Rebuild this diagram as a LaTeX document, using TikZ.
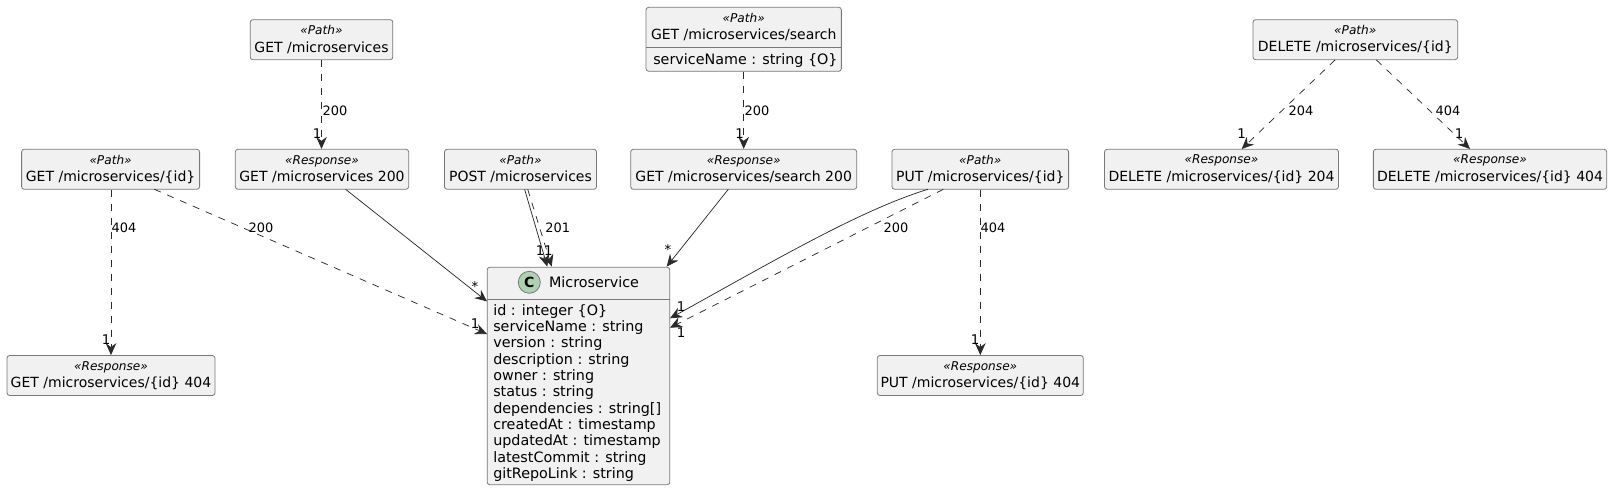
\documentclass[tikz,border=0pt]{standalone}
\usepackage{fontspec}
\setmainfont{DejaVu Sans}
\usetikzlibrary{arrows.meta}
\definecolor{boxfill}{HTML}{F1F1F1}
\definecolor{boxline}{HTML}{787878}
\definecolor{edgeline}{HTML}{2A2A2A}
\definecolor{spotfill}{HTML}{ADD1B2}
\newcommand{\stereo}[1]{{\fontsize{9.1}{11}\itshape\selectfont «#1»}}
\begin{document}
\begin{tikzpicture}
  [
  x=0.75pt,y=-0.75pt,
  box/.style={rectangle,draw=boxline,fill=boxfill,line width=0.6pt,rounded corners=2pt,inner sep=0pt,minimum height=30pt,align=center,font=\fontsize{10.5}{13}\selectfont},
  plain/.style={inner sep=0pt,font=\fontsize{10.75}{12.25}\selectfont},
  flow/.style={draw=edgeline,line width=0.55pt,-{Stealth[length=9pt,width=8pt,inset=3pt]}},
  dep/.style={flow,dash pattern=on 5.25pt off 5.25pt},
  elabel/.style={inner sep=0pt,font=\fontsize{9.7}{11}\selectfont},
  mult/.style={inner sep=0pt,font=\fontsize{10}{11}\selectfont}
  ]
  \useasboundingbox (0,0) rectangle (1613,491);

  \node (getall) at (321.5,39.7) [box,minimum width=107pt] {\stereo{Path}\\GET /microservices};
  \node (search) at (743.7,39.3) [box,minimum width=146.5pt,minimum height=48pt] {};
  \node (del) at (1355.3,39.7) [box,minimum width=153.5pt] {\stereo{Path}\\DELETE /microservices/\{id\}};

  \node (getid) at (110.6,169.3) [box,minimum width=133.5pt] {\stereo{Path}\\GET /microservices/\{id\}};
  \node (getall200) at (322,169.3) [box,minimum width=130pt] {\stereo{Response}\\GET /microservices 200};
  \node (post) at (520.5,169.3) [box,minimum width=114pt] {\stereo{Path}\\POST /microservices};
  \node (search200) at (743.7,169.3) [box,minimum width=169.5pt] {\stereo{Response}\\GET /microservices/search 200};
  \node (put) at (980.3,169.3) [box,minimum width=132.5pt] {\stereo{Path}\\PUT /microservices/\{id\}};
  \node (del204) at (1221.5,169.3) [box,minimum width=175.5pt] {\stereo{Response}\\DELETE /microservices/\{id\} 204};
  \node (del404) at (1490,169.3) [box,minimum width=175pt] {\stereo{Response}\\DELETE /microservices/\{id\} 404};

  \node (getid404) at (111,375.5) [box,minimum width=156pt] {\stereo{Response}\\GET /microservices/\{id\} 404};
  \node (put404) at (980.3,375.5) [box,minimum width=154.5pt] {\stereo{Response}\\PUT /microservices/\{id\} 404};

  \node (ms) at (578.5,376) [box,minimum width=137pt,minimum height=163pt] {};

  % search box contents
  \node (searchname) at (743.7,27) [plain,align=center,font=\fontsize{10.5}{13}\selectfont] {\stereo{Path}\\GET /microservices/search};
  \node (searchattr) at (653,60.5) [plain,anchor=west] {serviceName : string \{O\}};
  \coordinate (searchsep) at (743.7,47.5);
  \draw [boxline,line width=0.6pt] (search.west |- searchsep) -- (search.east |- searchsep);

  % class contents
  \node (msspot) at (529.3,282.3) [circle,draw=boxline,fill=spotfill,line width=0.6pt,inner sep=0pt,minimum size=16.5pt,font=\fontsize{10.5}{12}\bfseries\selectfont] {C};
  \node (msname) at (594,282) [plain] {Microservice};
  \node (msattr) at (493,393) [plain,anchor=west,align=left] {id : integer \{O\}\\serviceName : string\\version : string\\description : string\\owner : string\\status : string\\dependencies : string[]\\createdAt : timestamp\\updatedAt : timestamp\\latestCommit : string\\gitRepoLink : string};
  \coordinate (mssep) at (578.2,299.5);
  \draw [boxline,line width=0.6pt] (ms.west |- mssep) -- (ms.east |- mssep);

  % free ends on the box borders
  \coordinate (getid-a) at (154.3,189.3);
  \coordinate (getall200-a) at (345.6,189.3);
  \coordinate (post-a) at (524.6,189.3);
  \coordinate (post-b) at (527.7,189.3);
  \coordinate (search200-a) at (728.3,189.3);
  \coordinate (put-a) at (928,189.3);
  \coordinate (put-b) at (943.3,189.3);
  \coordinate (del-a) at (1335,60);
  \coordinate (del-b) at (1376.4,60);
  \coordinate (del204-a) at (1241.7,149);
  \coordinate (del404-a) at (1470,149);
  \coordinate (ms-a) at (487,301.4);
  \coordinate (ms-b) at (487,334);
  \coordinate (ms-c) at (547.3,266.6);
  \coordinate (ms-d) at (551.7,266.6);
  \coordinate (ms-e) at (666.7,266.6);
  \coordinate (ms-f) at (670,318.3);
  \coordinate (ms-g) at (670,327.7);

  \draw [dep] (getall) to (getall200.north -| getall) node [elabel] at (335,111) {200} node [mult] at (317,134) {1};
  \draw [dep] (search) to (search200) node [elabel] at (757,111) {200} node [mult] at (739.7,134) {1};
  \draw [dep] (del-a) to (del204-a) node [elabel] at (1301,111) {204} node [mult] at (1241.7,134) {1};
  \draw [dep] (del-b) to (del404-a) node [elabel] at (1448,111) {404} node [mult] at (1459,134) {1};
  \draw [dep] (getid.south -| getid404) to (getid404) node [elabel] at (124,228) {404} node [mult] at (106,339.5) {1};
  \draw [dep] (getid-a) to (ms-b) node [elabel] at (261,228) {200} node [mult] at (475,324) {1};
  \draw [flow] (getall200-a) to (ms-a) node [mult] at (475,287) {*};
  \draw [flow] (post-a) to (ms-c) node [mult] at (540.2,250.7) {1};
  \draw [dep] (post-b) to (ms-d) node [elabel] at (557.7,228) {201} node [mult] at (548.4,250.7) {1};
  \draw [flow] (search200-a) to (ms-e) node [mult] at (668,250) {*};
  \draw [flow] (put-a) .. controls (860,210) and (770,263) .. (ms-f) node [mult] at (681,306.7) {1};
  \draw [dep] (put-b) to (ms-g) node [elabel] at (896,228) {200} node [mult] at (681,333) {1};
  \draw [dep] (put) to (put404) node [elabel] at (993,228) {404} node [mult] at (975,339.5) {1};
\end{tikzpicture}
\end{document}
